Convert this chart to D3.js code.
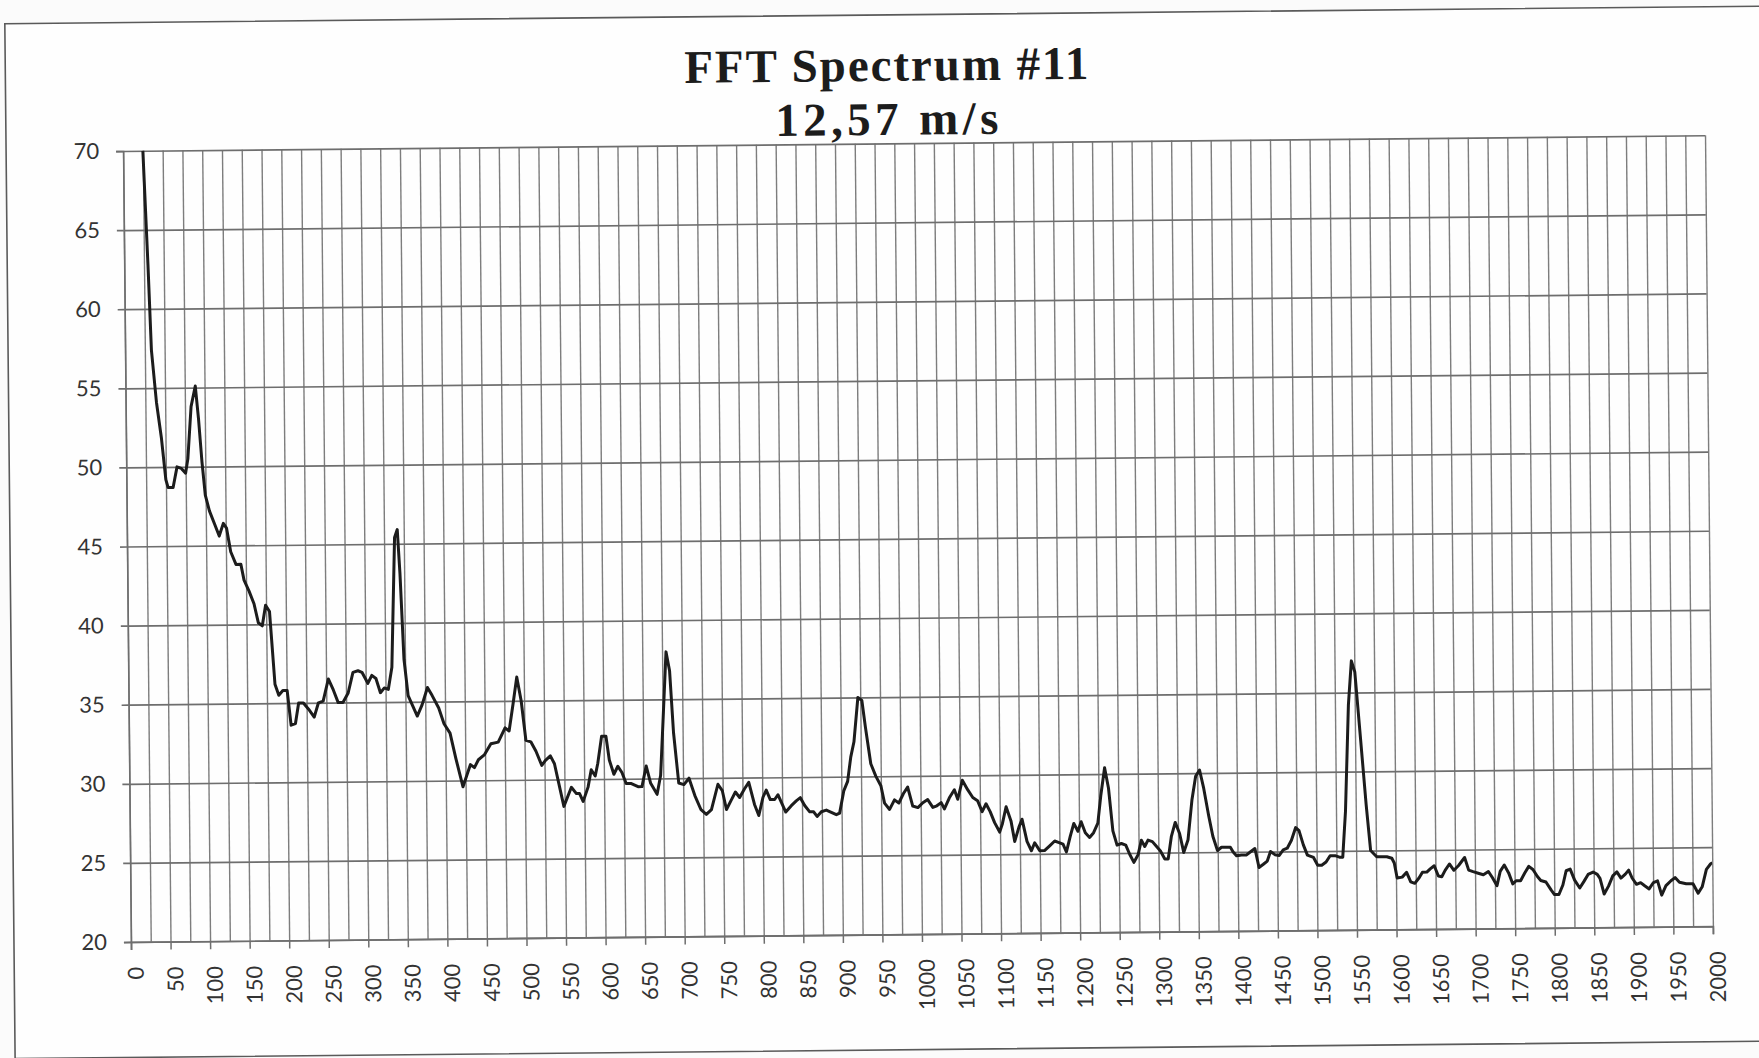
<!DOCTYPE html>
<html>
<head>
<meta charset="utf-8">
<script src="https://cdn.jsdelivr.net/npm/d3@7/dist/d3.min.js"></script>
<style>
body { margin: 0; background: #fbfbfb; }
.lbl { font-family: Lato, "Open Sans", sans-serif; font-size: 22px; fill: #333333; }
.title { font-family: "Liberation Serif", "Times New Roman", serif; font-weight: bold; font-size: 47px; fill: #1c1c1c; }
</style>
</head>
<body>
<script>

// spectrum: frequency (Hz) and level
var freq = [25,30,33.3,39,44.9,49.9,52.7,59,64.2,69.6,75,78,82.7,88.3,92,95.8,99.6,104.6,110.7,116.7,
  122,126,131,137.5,143.7,147.5,153.7,159.8,165,170,174.4,179.3,182.3,185.3,190,195.2,200.6,205.2,210.7,215,
  221,227.5,234.5,240,246,252.8,259,265,271,277.7,284,290.4,295.4,302.7,307.8,313,318.5,323.5,328.5,333.3,
  338.3,341.8,344.7,348.7,353.5,364.8,371,378,383.7,392,398.5,406,413,421.7,431.4,436.4,441.5,449,457.5,466.8,
  475.6,480.7,486,491,496.3,501.8,508,514.4,521.6,526,532.5,537.6,543.9,549,558.7,565,569,573.4,579.8,584,
  589,592.4,597.5,603,607,612.6,617.7,622.8,628,634.6,643,648,653.5,659,667,671.7,676,680,684.3,688.5,
  694.5,701,707.5,714.7,722.3,729,735.5,744,749.4,754.5,760.8,766,771.3,777.6,783,790,795.3,800.8,805,810,
  815.5,819.7,829.4,836.5,842.8,848,853.4,859.7,864.7,869,874.4,880.7,887,893.3,897.5,903,908,912.3,916.5,922,
  927,931.2,937.5,943.8,950,954.4,960.7,967,972.5,978.4,983.8,990,996.5,1002.8,1009,1015.4,1020.5,1026,1030,1036.4,
  1042.8,1047,1053,1059.6,1066,1072,1077.7,1082.7,1087.8,1093.3,1099.6,1103,1108,1114,1118.5,1124,1128,1134,1139.5,1143.7,
  1150,1156,1162.6,1169,1174.5,1179.5,1183.7,1188.8,1193.4,1198.5,1202.7,1207.8,1213.2,1218.3,1223.8,1228,1233,1237.7,1242.7,1247.8,
  1253.3,1258.8,1263.8,1268.9,1274.4,1278.6,1282.8,1287,1292.5,1297.5,1302.6,1308,1312.3,1316.5,1321.6,1327,1332,1337.6,1343,1348,
  1353,1357.8,1364,1369,1374.7,1379.8,1385.3,1391,1394.5,1398.7,1405,1411.4,1416.5,1422,1427,1432.5,1437.5,1441.7,1447.2,1452.7,
  1457.8,1462.9,1468.3,1473.8,1478,1483.3,1488.3,1496,1501.2,1506.3,1511.8,1517,1523.3,1528.8,1533,1537,1542,1546.3,1550.5,1556.9,
  1563.2,1568.3,1575.9,1582.3,1588.7,1595,1598,1601.5,1607.9,1613.5,1618.6,1623.7,1629.3,1633.5,1639,1643.4,1648.5,1653.6,1657.9,1662.2,
  1667.7,1673.3,1679.3,1687,1692,1697.6,1704,1710.5,1716.9,1722,1727.6,1731.8,1737,1742.5,1747.6,1751.9,1757.5,1763,1768,1773.2,
  1778.8,1783,1789.5,1795.9,1800.2,1805.8,1810.9,1815.2,1820.3,1825.8,1832.2,1837.4,1842.9,1849.3,1854.5,1857.9,1863,1868.6,1874.1,1879.3,
  1884.4,1890,1894.2,1898.5,1904,1909.2,1914.3,1919.9,1925.4,1930.6,1935.7,1941.2,1947.6,1952.8,1958.3,1966.8,1975.4,1981.8,1987,1992.5,
  1998,2000];

var amp = [70,62.8,57.4,54.1,51.8,49.2,48.7,48.7,50,49.9,49.6,50.5,53.8,55.1,53,50.3,48.2,47.2,46.4,45.6,
  46.4,46.1,44.6,43.8,43.8,42.8,42.1,41.3,40.1,39.9,41.2,40.8,38.5,36.2,35.5,35.8,35.8,33.6,33.7,35,
  35,34.6,34.1,35,35.1,36.5,35.8,35,35,35.6,36.9,37,36.9,36.2,36.7,36.5,35.6,35.9,35.8,37.2,
  45.4,45.9,43.1,37.7,35.4,34.1,34.8,35.9,35.4,34.6,33.6,33,31.4,29.6,31,30.8,31.3,31.6,32.3,32.4,
  33.3,33.1,34.8,36.5,35,32.5,32.4,31.8,30.9,31.2,31.5,31,29.5,28.3,29.5,29.1,29.1,28.6,29.5,30.6,
  30.2,31,32.7,32.7,31.2,30.3,30.8,30.4,29.7,29.7,29.5,29.5,30.8,29.7,29,30.2,34.2,38,36.8,32.9,
  29.7,29.6,30,28.9,28,27.7,28,29.6,29.2,28,28.6,29.1,28.75,29.3,29.7,28.3,27.6,28.75,29.2,28.6,
  28.6,28.9,27.8,28.2,28.5,28.7,28.2,27.8,27.8,27.5,27.8,27.9,27.75,27.6,27.7,29.1,29.7,31.25,32.2,35,
  34.8,33.1,30.8,30,29.4,28.3,27.9,28.5,28.3,28.9,29.3,28.1,28,28.3,28.5,28,28.1,28.3,27.9,28.6,
  29.1,28.5,29.7,29.1,28.6,28.4,27.7,28.2,27.7,27,26.4,26.9,28,27.1,25.8,26.7,27.2,25.8,25.2,25.7,
  25.2,25.2,25.5,25.8,25.7,25.6,25.1,26.1,26.9,26.4,27,26.3,26,26.3,26.9,28.7,30.4,29.1,26.4,25.5,
  25.6,25.5,24.9,24.4,24.9,25.8,25.4,25.8,25.7,25.4,25.1,24.6,24.6,26,26.9,26.2,25,25.8,28.3,29.8,
  30.2,29.1,27.3,26,25.1,25.3,25.3,25.3,25,24.75,24.8,24.8,25,25.2,24,24.2,24.4,25,24.8,24.75,
  25.1,25.2,25.7,26.5,26.3,25.4,24.75,24.6,24.1,24.1,24.3,24.7,24.7,24.6,24.6,27.5,34.2,37,36.3,32.1,
  27.9,25,24.6,24.6,24.6,24.5,24.2,23.25,23.3,23.6,23,22.9,23.25,23.6,23.6,23.8,24,23.35,23.3,23.7,
  24.1,23.7,24,24.5,23.7,23.6,23.5,23.4,23.6,23.2,22.7,23.6,24,23.5,22.8,23,23,23.5,23.9,23.7,
  23.25,23,22.9,22.4,22.1,22.1,22.7,23.6,23.7,23,22.5,22.9,23.35,23.5,23.35,23.1,22.1,22.6,23.25,23.5,
  23.1,23.35,23.6,23.1,22.7,22.8,22.6,22.4,22.8,22.9,22,22.6,22.9,23.1,22.8,22.7,22.7,22.1,22.5,23.6,
  23.95,24];

var yTicks = [20,25,30,35,40,45,50,55,60,65,70];
var xTicks = [0,50,100,150,200,250,300,350,400,450,500,550,600,650,700,750,800,850,900,950,1000,
  1050,1100,1150,1200,1250,1300,1350,1400,1450,1500,1550,1600,1650,1700,1750,1800,1850,1900,1950,2000];
var titleLines = ['FFT Spectrum #11', '12,57 m/s'];

var W = 1759, H = 1058;
var L = 127, R = 1709, T = 143.5, B = 934.5;

var svg = d3.select('body').append('svg')
    .attr('width', W)
    .attr('height', H);

svg.append('rect').attr('width', W).attr('height', H).attr('fill', '#fbfbfb');

// the scanned page sits a little crooked
var g = svg.append('g').attr('transform', 'rotate(-0.57,880,540)');

// frame: top, left and bottom edges only, the right one is cut off by the scan
g.append('path')
    .attr('d', 'M 1790 15 H 10 V 1050 H 1790')
    .attr('fill', '#fefefe')
    .attr('stroke', '#5a5a5a')
    .attr('stroke-width', 1.6);

var x = d3.scaleLinear().domain([0, 2000]).range([L, R]);
var y = d3.scaleLinear().domain([20, 70]).range([B, T]);

// vertical grid every 25 Hz
var vgrid = g.append('g')
    .attr('transform', 'translate(0,' + B + ')')
    .call(d3.axisBottom(x).tickValues(d3.range(0, 2001, 25)).tickSize(-(B - T)).tickFormat(''));
vgrid.select('.domain').remove();
vgrid.selectAll('line').attr('stroke', '#7d7d7d').attr('stroke-width', 1.4);

// horizontal grid
var hgrid = g.append('g')
    .attr('transform', 'translate(' + L + ',0)')
    .call(d3.axisLeft(y).tickValues(yTicks).tickSize(-(R - L)).tickFormat(''));
hgrid.select('.domain').remove();
hgrid.selectAll('line').attr('stroke', '#6e6e6e').attr('stroke-width', 1.7);

var yax = g.append('g')
    .attr('transform', 'translate(' + L + ',0)')
    .call(d3.axisLeft(y).tickValues(yTicks).tickSize(7).tickPadding(17));
yax.select('.domain').attr('stroke', '#6e6e6e').attr('stroke-width', 1.6);
yax.selectAll('line').attr('stroke', '#6e6e6e').attr('stroke-width', 1.7);
yax.selectAll('text').attr('class', 'lbl').attr('font-size', null).attr('font-family', null).attr('fill', null);

var xax = g.append('g')
    .attr('transform', 'translate(0,' + B + ')')
    .call(d3.axisBottom(x).tickValues(xTicks).tickSize(8).tickFormat(d3.format('d')));
xax.select('.domain').attr('stroke', '#6e6e6e').attr('stroke-width', 1.7);
xax.selectAll('line').attr('stroke', '#6e6e6e').attr('stroke-width', 1.5);
xax.selectAll('text')
    .attr('class', 'lbl').attr('font-size', null).attr('font-family', null).attr('fill', null)
    .attr('transform', 'rotate(-90)')
    .attr('text-anchor', 'end')
    .attr('x', -25)
    .attr('y', 0)
    .attr('dy', '0.54em');

g.append('clipPath').attr('id', 'plotclip')
  .append('rect').attr('x', L).attr('y', T - 1).attr('width', R - L).attr('height', B - T + 1);

var line = d3.line()
    .x(function(d) { return x(d[0]); })
    .y(function(d) { return y(d[1]); });

g.append('path')
    .datum(d3.zip(freq, amp))
    .attr('d', line)
    .attr('clip-path', 'url(#plotclip)')
    .attr('fill', 'none')
    .attr('stroke', '#1c1c1c')
    .attr('stroke-width', 3)
    .attr('stroke-linejoin', 'round');

var titleWidths = [404, 223];
g.selectAll('.title')
    .data(titleLines)
  .enter().append('text')
    .attr('class', 'title')
    .attr('x', 891)
    .attr('y', function(d, i) { return 81 + i * 54; })
    .attr('text-anchor', 'middle')
    .attr('textLength', function(d, i) { return titleWidths[i]; })
    .attr('lengthAdjust', 'spacing')
    .text(function(d) { return d; });

</script>
</body>
</html>
